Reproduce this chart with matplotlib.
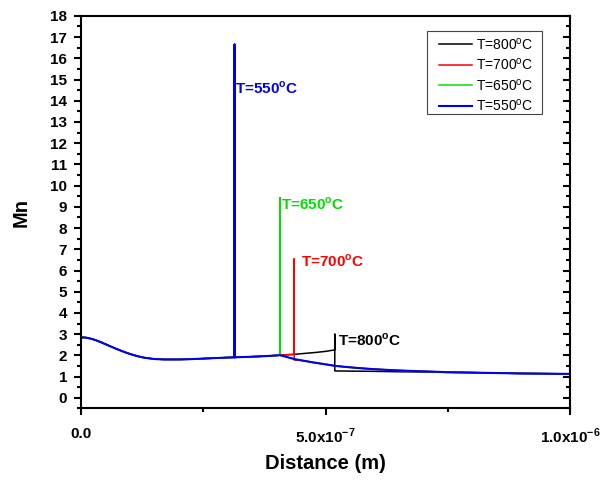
import numpy as np
import matplotlib as mpl
from matplotlib import pyplot as plt
from matplotlib.patches import Rectangle
from matplotlib.ticker import MultipleLocator, FixedLocator

mpl.rcParams['font.family'] = 'Liberation Sans'
mpl.rcParams['mathtext.fontset'] = 'custom'
mpl.rcParams['mathtext.rm'] = 'Liberation Sans'
mpl.rcParams['mathtext.bf'] = 'Liberation Sans:bold'

# Mn profile pieces, x in units of 1e-7 m
x_head = [0, 0.1, 0.2, 0.3, 0.4, 0.5, 0.6, 0.7, 0.8, 0.9, 1.0, 1.1, 1.2, 1.3, 1.4, 1.5,
          1.6, 1.7, 1.8, 2.0, 2.2, 2.4, 2.6, 2.8, 3.0, 3.14]
y_head = [2.85, 2.84, 2.79, 2.72, 2.63, 2.53, 2.43, 2.33, 2.24, 2.15, 2.07, 2.00, 1.94, 1.89,
          1.86, 1.83, 1.82, 1.81, 1.81, 1.81, 1.82, 1.84, 1.86, 1.88, 1.90, 1.91]
x_mid = [3.14, 3.4, 3.6, 3.8, 4.0, 4.07]
y_mid = [1.91, 1.93, 1.95, 1.97, 2.00, 2.01]
# behind the interface (550, 650 and 700 C)
x_fall = [4.07, 4.2, 4.36, 4.5, 4.75, 5.0, 5.19, 5.4, 5.7, 6.0, 6.5, 7.0, 7.5, 8.0, 8.5,
          9.0, 9.5, 10.0]
y_fall = [2.01, 1.93, 1.83, 1.77, 1.67, 1.58, 1.51, 1.46, 1.40, 1.35, 1.29, 1.25, 1.21,
          1.19, 1.17, 1.15, 1.14, 1.13]
# ahead of the interface (700 and 800 C)
x_rise = [4.07, 4.2, 4.36, 4.6, 4.8, 5.0, 5.19]
y_rise = [2.01, 2.03, 2.05, 2.10, 2.14, 2.19, 2.26]
x_tail_800 = [5.19, 5.5, 6.0, 6.5, 7.0, 7.5, 8.0, 8.5, 9.0, 9.5, 10.0]
y_tail_800 = [1.27, 1.26, 1.25, 1.23, 1.22, 1.20, 1.19, 1.17, 1.15, 1.14, 1.13]

temps = ["800", "700", "650", "550"]
spike_x = [5.19, 4.36, 4.07, 3.14]
spike_top = [3.0, 6.55, 9.43, 16.65]
label_y = [2.7, 6.43, 9.12, 14.6]
colors = ["black", "red", "#00e000", "#0000ee"]


def take(xs, ys, lo, hi):
    return [(a, b) for a, b in zip(xs, ys) if lo <= a <= hi]


def build(temp):
    i = temps.index(temp)
    sx, top = spike_x[i], spike_top[i]
    head = list(zip(x_head, y_head))
    mid = list(zip(x_mid, y_mid))
    fall = list(zip(x_fall, y_fall))
    if temp == "550":
        pts = head + [(sx, top)] + mid + fall[1:]
    elif temp == "650":
        pts = head + mid + [(sx, top), (sx, y_mid[-1])] + fall[1:]
    elif temp == "700":
        pts = head + mid + take(x_rise, y_rise, 4.1, sx) \
            + [(sx, top), (sx, 1.78)] + take(x_fall, y_fall, 4.4, 10)
    else:
        pts = head + mid + take(x_rise, y_rise, 4.1, sx) \
            + [(sx, top)] + list(zip(x_tail_800, y_tail_800))
    xs, ys = zip(*pts)
    return np.array(xs) * 1e-7, np.array(ys)


fig = plt.figure(figsize=(6, 4.8), dpi=100)
ax = fig.add_axes([0.135, 0.149, 0.815, 0.818])

for temp, col in zip(temps, colors):
    xs, ys = build(temp)
    ax.plot(xs, ys, color=col, lw=1.5 if temp == "550" else 1.1,
            label=r"T=%s$^\mathrm{o}$C" % temp)

offsets = {"800": 2, "700": 5, "650": 0.5, "550": 0}
for temp, sx, ly, col in zip(temps, spike_x, label_y, colors):
    ax.annotate(r"T=%s$^\mathbf{o}$C" % temp, (sx * 1e-7, ly), xytext=(offsets[temp], 0),
                textcoords="offset points", color=col, fontsize=11,
                fontweight="bold", ha="left", va="center")

ax.set_xlim(0, 1e-6)
ax.set_ylim(-0.5, 18)
ax.xaxis.set_major_locator(FixedLocator([0, 5e-7, 1e-6]))
ax.xaxis.set_minor_locator(FixedLocator([2.5e-7, 7.5e-7]))
ax.set_xticklabels(["0.0", r"5.0x10$^\mathbf{-7}$", r"1.0x10$^\mathbf{-6}$"])
ax.yaxis.set_major_locator(MultipleLocator(1))
ax.yaxis.set_minor_locator(MultipleLocator(0.5))

ax.tick_params(axis="both", which="both", width=1.5, labelsize=11)
ax.tick_params(axis="both", which="major", length=5)
ax.tick_params(axis="both", which="minor", length=3)
ax.tick_params(axis="x", which="major", pad=8)
ax.tick_params(axis="y", which="both", right=True, direction="out", pad=5)
for t in ax.get_xticklabels() + ax.get_yticklabels():
    t.set_fontweight("bold")
# right-side ticks point inward
for line in ax.yaxis.get_ticklines(minor=False)[1::2] + ax.yaxis.get_ticklines(minor=True)[1::2]:
    line.set_marker(mpl.lines.TICKLEFT)

for sp in ax.spines.values():
    sp.set_linewidth(1.5)

ax.set_xlabel("Distance (m)", fontsize=14.5, fontweight="bold", labelpad=6)
ax.set_ylabel("Mn", fontsize=14.5, fontweight="bold", labelpad=14)

# legend entries without their own frame, boxed separately
ax.legend(loc="upper left", bbox_to_anchor=(0.732, 0.948), borderaxespad=0,
          borderpad=0, frameon=False, fontsize=10, handlelength=2.4,
          handletextpad=0.3, labelspacing=0.32)
ax.add_patch(Rectangle((0.7076, 0.750), 0.235, 0.212, transform=ax.transAxes,
                       fill=False, edgecolor="#444444", lw=0.8, zorder=5))

fig.savefig("out.png", dpi=100)
